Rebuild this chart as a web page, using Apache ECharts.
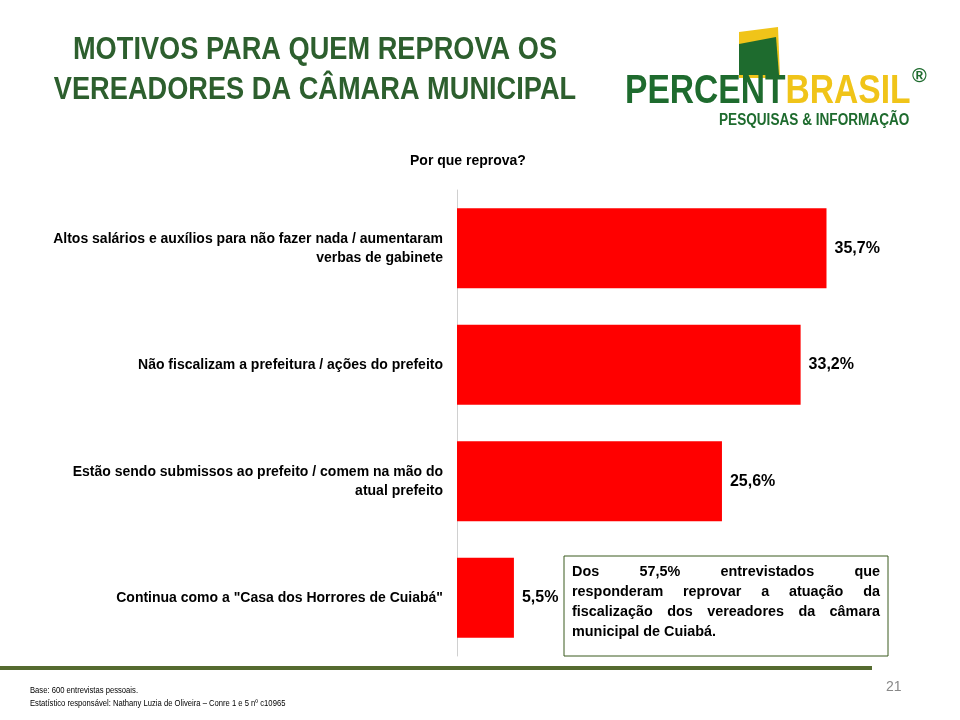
<!DOCTYPE html><html><head><meta charset="utf-8"><script src="https://cdn.jsdelivr.net/npm/echarts@6/dist/echarts.min.js"></script>
<style>body{margin:0}#c{width:960px;height:720px}</style></head><body><div id="c"></div><script>
const categories=["Altos salários e auxílios para não fazer nada / aumentaram\nverbas de gabinete","Não fiscalizam a prefeitura / ações do prefeito","Estão sendo submissos ao prefeito / comem na mão do\natual prefeito","Continua como a \"Casa dos Horrores de Cuiabá\""];
const values=[35.7,33.2,25.6,5.5];
const boxLines=[["Dos 57,5% entrevistados que",true],["responderam reprovar a atuação da",true],["fiscalização dos vereadores da câmara",true],["municipal de Cuiabá.",false]];
const chart=echarts.init(document.getElementById('c'));
const F='"Liberation Sans",Arial,sans-serif';
const boxFont='bold 15px '+F, S=0.96;
const cv=document.createElement('canvas').getContext('2d');cv.font=boxFont;
const g=[];
const bx0=572,bx1=880;
const txt=(x,y,text,font,fill,sx)=>({type:'text',x:x,y:y,scaleX:sx||1,style:{text:text,font:font,fill:fill}});
boxLines.forEach((l,i)=>{const y=564+i*20;const words=l[0].split(' ');
 if(!l[1]){g.push(txt(bx0,y,l[0],boxFont,'#000',S));return;}
 const tw=words.reduce((s,w)=>s+cv.measureText(w).width*S,0);const gap=(bx1-bx0-tw)/(words.length-1);let x=bx0;
 words.forEach(w=>{g.push(txt(x,y,w,boxFont,'#000',S));x+=cv.measureText(w).width*S+gap;});});
const TF='bold 32px '+F;
chart.setOption({animation:false,
graphic:[
{type:'text',x:315,y:30,scaleX:0.85,style:{text:'MOTIVOS PARA QUEM REPROVA OS\nVEREADORES DA CÂMARA MUNICIPAL',font:TF,fill:'#2d5f2e',align:'center',lineHeight:40}},
{type:'text',left:410,top:154,style:{text:'Por que reprova?',font:'bold 14px Arial, sans-serif',fill:'#000'}},
{type:'rect',shape:{x:564,y:556,width:324,height:100},style:{fill:'#fff',stroke:'#3b5a1e',lineWidth:1}},
...g,
{type:'rect',shape:{x:0,y:666,width:872,height:4},style:{fill:'#556b2f'}},
{type:'text',x:30,y:684,scaleX:0.85,style:{text:'Base: 600 entrevistas pessoais.\nEstatístico responsável: Nathany Luzia de Oliveira – Conre 1 e 5 nº c10965',font:'9px '+F,fill:'#000',lineHeight:13}},
{type:'text',left:886,top:680,style:{text:'21',font:'14px Arial, sans-serif',fill:'#888'}},
{type:'polygon',shape:{points:[[739,32],[778,27],[780,78],[739,78]]},style:{fill:'#f0c419'}},
{type:'polygon',shape:{points:[[739,44],[776,37],[779,75],[739,75]]},style:{fill:'#1e6b2e'}},
{type:'text',x:625,y:72,scaleX:0.84,style:{rich:{a:{font:'bold 40px '+F,fill:'#1e6b2e'},b:{font:'bold 40px '+F,fill:'#f0c419'}},text:'{a|PERCENT}{b|BRASIL}'}},
{type:'text',left:912,top:66,style:{text:'®',font:'bold 20px Arial',fill:'#1e6b2e'}},
{type:'text',x:719,y:113,scaleX:0.85,style:{text:'PESQUISAS & INFORMAÇÃO',font:'bold 16px '+F,fill:'#1e6b2e'}}
],
grid:{left:457,right:89,top:190,height:466},
xAxis:{type:'value',min:0,max:40,show:false},
yAxis:{type:'category',inverse:true,data:categories,axisTick:{show:false},axisLine:{lineStyle:{color:'#d0d0d0'}},axisLabel:{color:'#000',fontWeight:'bold',fontSize:14,fontFamily:'Arial, sans-serif',margin:14,lineHeight:19,align:'right'}},
series:[{type:'bar',data:values,barWidth:80,itemStyle:{color:'#ff0000'},label:{show:true,position:'right',distance:8,formatter:p=>p.value.toFixed(1).replace('.',',')+'%',fontWeight:'bold',fontSize:16,fontFamily:F,color:'#000'}}]
});
</script></body></html>
